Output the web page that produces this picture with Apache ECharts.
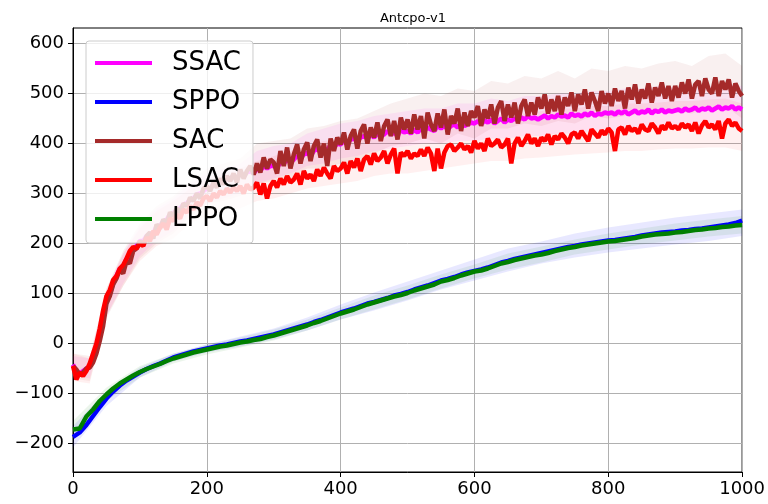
<!DOCTYPE html>
<html><head><meta charset="utf-8">
<script src="https://cdn.jsdelivr.net/npm/echarts@6/dist/echarts.min.js"></script>
<style>html,body{margin:0;padding:0;background:#fff}#c{width:768px;height:504px}</style>
</head><body><div id="c"></div>
<script>
const title = 'Antcpo-v1';
const seriesNames = ['SSAC', 'SPPO', 'SAC', 'LSAC', 'LPPO'];
const xTicks = [0, 200, 400, 600, 800, 1000];
const yTicks = [-200, -100, 0, 100, 200, 300, 400, 500, 600];

// SAC-family curves sampled every 5 steps (x = 0..1000)
const sacStepSize = 5;
const sacValues = [
-45,-52,-62,-58,-50,-48,-38,-20,5,35,80,95,118,130,148,140,165,160,185,190,
205,198,215,222,210,238,230,248,240,262,255,270,262,280,275,292,285,300,290,310,
315,305,322,312,330,318,335,325,340,322,348,330,345,355,338,360,342,372,350,368,
362,340,385,355,392,350,378,398,360,388,402,365,395,408,372,400,355,410,385,412,
398,422,388,415,428,390,425,438,400,432,412,442,405,435,448,415,445,408,452,428,
448,420,458,428,455,410,462,438,425,460,432,468,418,455,440,470,425,462,435,465,
452,475,435,468,450,478,440,472,485,445,478,452,482,440,475,488,455,482,458,492,
470,498,460,488,465,495,458,492,475,502,465,498,478,508,470,502,485,465,505,480,
500,475,510,485,505,470,512,488,518,480,508,490,520,482,512,495,522,490,515,485,
515,492,522,500,528,490,518,525,495,530,508,500,532,495,525,508,528,492,520,505,
495];
const lsacValues = [
-45,-72,-58,-65,-55,-40,-20,0,30,66,95,107,127,135,150,157,170,185,193,190,
200,195,212,205,225,218,232,240,228,250,245,258,250,268,262,275,268,282,276,290,
295,285,300,292,305,298,310,302,312,305,315,300,318,308,312,322,298,320,290,315,
325,312,330,318,335,322,328,340,318,345,330,338,325,348,335,352,340,330,355,345,
350,362,340,365,352,370,345,368,375,358,380,365,372,385,360,378,390,340,382,375,
385,370,380,375,388,375,392,380,345,390,350,382,395,398,385,392,400,388,395,382,
405,390,400,385,410,395,400,408,392,398,410,360,400,412,395,405,418,400,410,395,
412,405,418,398,415,408,420,412,400,418,422,410,425,415,405,428,420,412,426,418,
430,422,385,428,432,418,435,425,430,420,438,428,425,440,432,420,436,428,442,430,
435,428,440,432,438,425,442,420,436,445,432,438,428,445,410,440,448,435,442,430,
425];
const ssacValues = [
-42,-55,-60,-55,-50,-45,-30,-10,15,45,85,100,120,135,150,150,170,170,190,195,
205,205,215,220,220,235,235,245,248,258,260,268,270,278,280,288,290,298,300,305,
310,310,318,318,325,322,330,330,335,330,340,335,342,345,340,350,345,355,350,355,
355,352,362,360,368,362,368,375,370,378,382,375,385,390,382,392,385,398,392,400,
398,405,400,408,410,405,412,415,410,418,412,420,415,418,425,418,422,415,428,422,
425,420,428,422,430,425,432,428,425,435,430,436,428,435,438,432,440,435,438,442,
440,445,438,446,442,448,440,445,450,442,448,445,450,446,452,448,455,450,452,448,
452,456,450,455,452,458,454,456,452,460,455,458,454,460,456,462,455,460,458,462,
460,462,458,464,460,465,458,462,466,460,464,462,468,460,466,463,468,462,466,464,
466,468,464,470,466,468,472,465,470,468,472,466,470,474,468,472,470,475,468,472,
468];

// PPO curves sampled every 10 steps
const ppoStepSize = 10;
const sppoValues = [
-187,-178,-163,-145,-127,-110,-96,-84,-74,-66,
-58,-51,-45,-40,-34,-28,-24,-20,-16,-13,
-10,-7,-4,-2,1,4,6,9,12,15,
18,22,26,30,34,38,43,47,52,57,
62,66,70,75,80,83,87,91,96,99,
103,108,112,116,121,126,129,133,138,142,
145,148,152,157,162,165,169,172,175,178,
181,184,187,190,193,195,198,200,202,204,
206,207,209,211,213,216,218,220,222,223,
224,226,227,229,230,232,234,236,238,241,246];
const lppoValues = [
-172,-170,-146,-132,-115,-102,-90,-80,-72,-64,
-57,-51,-46,-41,-35,-30,-26,-22,-18,-15,
-12,-9,-6,-4,-1,2,4,7,9,13,
16,20,24,28,32,36,41,45,50,55,
60,64,68,73,78,82,86,90,94,97,
101,106,110,114,118,124,127,131,136,140,
144,146,150,155,160,163,167,170,173,176,
178,181,185,188,191,193,196,198,200,202,
204,205,207,209,211,214,216,218,219,220,
222,223,225,227,228,230,231,233,234,236,237];

// Shaded bands, SAC family every 25 steps, PPO every 50 steps
const sacBandStep = 25;
const sacUpper  = [-20,-25,110,185,240,275,295,325,350,360,370,400,405,410,430,435,445,450,465,480,490,500,495,510,505,525,520,535,530,545,530,550,545,555,550,560,565,555,575,580,555];
const sacLower  = [-70,-75,50,115,170,200,220,255,280,285,295,320,325,330,350,350,360,360,380,395,400,410,400,420,410,430,430,440,435,445,440,455,450,455,460,460,465,460,470,475,450];
const ssacUpper = [-25,-30,105,180,235,270,290,320,340,350,360,385,395,400,420,430,440,445,455,460,465,470,470,480,480,490,485,495,495,500,500,505,505,510,510,515,512,518,515,520,515];
const ssacLower = [-65,-70,55,120,175,205,225,260,280,290,300,320,330,340,355,360,370,375,385,390,395,400,400,405,405,410,410,415,415,420,420,425,425,430,428,432,430,435,432,438,430];
const lsacUpper = [-20,-30,110,180,230,265,285,310,330,340,350,365,375,385,395,405,410,415,425,430,435,440,445,450,450,455,460,460,465,470,470,475,475,480,480,482,485,485,488,490,480];
const lsacLower = [-75,-80,55,115,165,195,210,240,255,265,270,285,290,300,310,315,320,325,335,340,340,345,350,355,360,365,365,370,372,375,378,380,382,385,385,388,390,390,392,392,385];
const ppoBandStep = 50;
const sppoUpper = [-165,-95,-48,-20,-2,14,30,52,78,102,124,146,168,190,204,220,232,242,252,260,268];
const sppoLower = [-208,-125,-68,-36,-18,-6,8,26,48,66,86,108,126,144,160,172,182,190,198,205,215];
const lppoUpper = [-155,-88,-45,-20,-2,12,28,48,72,96,116,138,158,180,194,208,220,230,240,248,255];
const lppoLower = [-190,-115,-68,-40,-22,-8,6,26,48,68,88,110,130,148,162,178,188,198,206,214,220];

const colors = {SSAC:'#ff00ff', SPPO:'#0000ff', SAC:'#a52a2a', LSAC:'#ff0000', LPPO:'#008000'};
const FONT = 'DejaVu Sans';

function pairs(arr, step){ return arr.map((v,i)=>[i*step, v]); }
function bandSeries(key, lower, upper, step, color, alpha){
  return {
    name:'_band'+key, type:'custom', silent:true, z:1, clip:true,
    encode:{x:0, y:[1,2]},
    data:lower.map((lo,i)=>[i*step, lo, upper[i]]),
    renderItem:function(params, api){
      if (params.dataIndex !== 0) return null;
      const pts = [];
      for (let i=0;i<upper.length;i++) pts.push(api.coord([i*step, upper[i]]));
      for (let i=lower.length-1;i>=0;i--) pts.push(api.coord([i*step, lower[i]]));
      return {type:'polygon', shape:{points:pts}, style:{fill:color, opacity:alpha, stroke:null}};
    }
  };
}
function lineSeries(name, arr, step){
  return {name:name, type:'line', data:pairs(arr, step), symbol:'none',
    lineStyle:{color:colors[name], width:4.5}, itemStyle:{color:colors[name]}, z:3};
}

const series = [
  bandSeries('SSAC', ssacLower, ssacUpper, sacBandStep, colors.SSAC, 0.07),
  bandSeries('SPPO', sppoLower, sppoUpper, ppoBandStep, colors.SPPO, 0.09),
  bandSeries('SAC', sacLower, sacUpper, sacBandStep, colors.SAC, 0.07),
  bandSeries('LSAC', lsacLower, lsacUpper, sacBandStep, colors.LSAC, 0.06),
  bandSeries('LPPO', lppoLower, lppoUpper, ppoBandStep, colors.LPPO, 0.08),
  lineSeries('SSAC', ssacValues, sacStepSize),
  lineSeries('SPPO', sppoValues, ppoStepSize),
  lineSeries('SAC', sacValues, sacStepSize),
  lineSeries('LSAC', lsacValues, sacStepSize),
  lineSeries('LPPO', lppoValues, ppoStepSize)
];

const chart = echarts.init(document.getElementById('c'), null, {renderer:'canvas'});
chart.setOption({
  animation:false,
  backgroundColor:'#fff',
  title:{text:title, left:408, textAlign:'center', top:7,
    textStyle:{fontFamily:FONT, fontSize:13, fontWeight:'normal', color:'#000'}},
  grid:{left:73, right:25, top:28, bottom:32, show:true, borderColor:'#000', borderWidth:1, backgroundColor:'transparent'},
  legend:{
    data:seriesNames.map(n=>({name:n, icon:'rect', itemStyle:{color:colors[n]}})),
    orient:'vertical', left:86, top:41,
    itemWidth:57, itemHeight:4, itemGap:9,
    padding:[7,12,9,9],
    backgroundColor:'rgba(255,255,255,0.8)', borderColor:'#cccccc', borderWidth:1, borderRadius:3,
    textStyle:{fontFamily:FONT, fontSize:26, color:'#000', lineHeight:30, padding:[0,0,0,15]},
    z:10
  },
  xAxis:{type:'value', min:0, max:1000, interval:200,
    axisLine:{show:true, onZero:false, lineStyle:{color:'#000', width:1}},
    axisTick:{show:true, length:5, inside:false, lineStyle:{color:'#000'}, customValues:xTicks},
    axisLabel:{fontFamily:FONT, fontSize:18, color:'#000', margin:8, customValues:xTicks,
      formatter:v=>String(v)},
    splitLine:{show:true, lineStyle:{color:'#b0b0b0', width:1}}},
  yAxis:{type:'value', min:-257, max:631,
    axisLine:{show:true, onZero:false, lineStyle:{color:'#000', width:1}},
    axisTick:{show:true, length:5, inside:false, lineStyle:{color:'#000'}, customValues:yTicks},
    axisLabel:{fontFamily:FONT, fontSize:18, color:'#000', margin:9, customValues:yTicks,
      formatter:v=>String(v).replace('-', '\u2212')},
    splitLine:{show:true, lineStyle:{color:'#b0b0b0', width:1}}},
  series:series
});
</script></body></html>
